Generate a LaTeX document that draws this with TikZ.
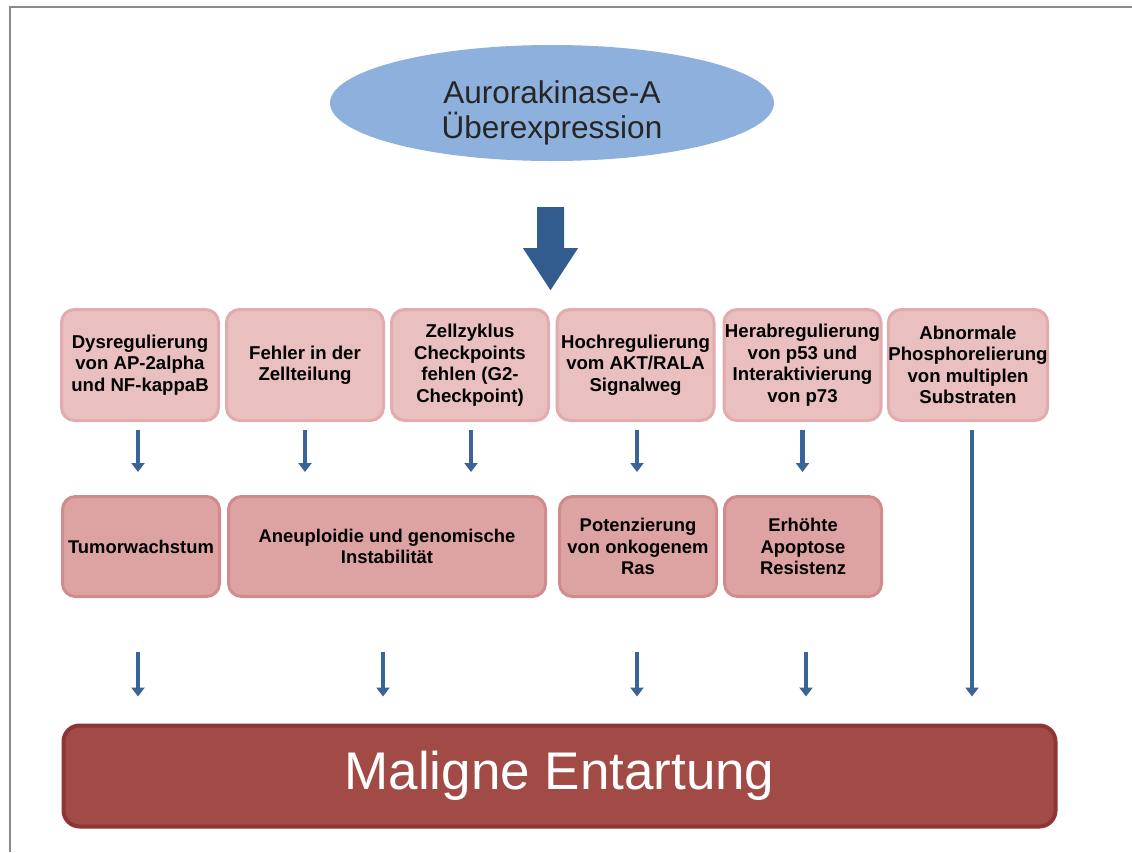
\documentclass[tikz,border=0pt]{standalone}
\usepackage{fontspec}
\setmainfont{Liberation Sans}
\usetikzlibrary{arrows.meta,calc,shapes.geometric}
\definecolor{ellfill}{HTML}{8DB0DC}
\definecolor{arrblue}{HTML}{3A6397}
\definecolor{bigblue}{HTML}{335C8E}
\definecolor{rowafill}{HTML}{E9BFC0}
\definecolor{rowadraw}{HTML}{E2ABAD}
\definecolor{rowbfill}{HTML}{DCA3A2}
\definecolor{rowbdraw}{HTML}{D18B8C}
\definecolor{botfill}{HTML}{A14A46}
\definecolor{botdraw}{HTML}{8E3636}
\definecolor{framegray}{HTML}{8A8A8A}
\tikzset{
  rowa/.style={draw=rowadraw, fill=rowafill, line width=3pt, rounded corners=13pt,
    minimum width=157pt, minimum height=111pt, align=center, inner sep=0pt,
    font=\fontsize{18.6}{21.5}\selectfont\bfseries},
  rowb/.style={draw=rowbdraw, fill=rowbfill, line width=3pt, rounded corners=13pt,
    minimum width=157pt, minimum height=100pt, align=center, inner sep=0pt,
    font=\fontsize{18.4}{21.5}\selectfont\bfseries},
  smallarr/.style={draw=arrblue, line width=4.5pt, -{Triangle[width=13pt,length=9pt]}},
}
\begin{document}
\begin{tikzpicture}[x=1pt,y=-1pt]
\useasboundingbox (0,0) rectangle (1132,852);
\fill[white] (0,0) rectangle (1132,852);
% frame
\draw[framegray, line width=2pt] (1132,7) -- (10,7) -- (10,852);

% top ellipse
\node[ellipse, fill=ellfill, minimum width=444pt, minimum height=116pt] (ell) at (552,103) {};
\node[align=center, font=\fontsize{31.5}{35}\selectfont, text=black!85] (elltext)
  at ([yshift=-10pt]ell.center) {Aurorakinase-A\\Überexpression};

% big arrow
\fill[bigblue] ($(ell.south)+(-15,46)$) -- ($(ell.south)+(12,46)$) -- ($(ell.south)+(12,87)$)
  -- ($(ell.south)+(26,87)$) -- ($(ell.south)+(-1.5,129)$) -- ($(ell.south)+(-29,87)$)
  -- ($(ell.south)+(-15,87)$) -- cycle;

% row 1
\node[rowa] (a1) at (140,365) {Dysregulierung\\von AP-2alpha\\und NF-kappaB};
\node[rowa] (a2) at (305,365) {Fehler in der\\Zellteilung};
\node[rowa] (a3) at (470,365) {Zellzyklus\\Checkpoints\\fehlen (G2-\\Checkpoint)};
\node[rowa] (a4) at (635.5,365) {Hochregulierung\\vom AKT/RALA\\Signalweg};
\node[rowa] (a5) at (802.5,365) {Herabregulierung\\von p53 und\\Interaktivierung\\von p73};
\node[rowa] (a6) at (968,365) {Abnormale\\Phosphorelierung\\von multiplen\\Substraten};

% row 2
\node[rowb] (b1) at (141,546.5) {Tumorwachstum};
\node[rowb, minimum width=317pt] (b2) at (387,546.5) {Aneuploidie und genomische\\Instabilität};
\node[rowb] (b3) at (638,546.5) {Potenzierung\\von onkogenem\\Ras};
\node[rowb] (b4) at (803,546.5) {Erhöhte\\Apoptose\\Resistenz};

% bottom
\node[draw=botdraw, fill=botfill, line width=4pt, rounded corners=16pt,
  minimum width=992pt, minimum height=101pt, text=white,
  font=\fontsize{53}{60}\selectfont] (bot) at (559.5,776) {Maligne Entartung};

% arrows row1 -> row2
\draw[smallarr, shorten <=8pt, shorten >=23pt] ([xshift=-2pt]a1.south) -- ([xshift=-2pt]a1.south |- b1.north);
\draw[smallarr, shorten <=8pt, shorten >=23pt] (a2.south) -- (a2.south |- b2.north);
\draw[smallarr, shorten <=8pt, shorten >=23pt] ([xshift=1pt]a3.south) -- ([xshift=1pt]a3.south |- b2.north);
\draw[smallarr, shorten <=8pt, shorten >=23pt] ([xshift=1.5pt]a4.south) -- ([xshift=1.5pt]a4.south |- b3.north);
\draw[smallarr, shorten <=8pt, shorten >=23pt] (a5.south) -- (a5.south |- b4.north);
% long arrow
\draw[smallarr, shorten <=8pt, shorten >=27pt] ([xshift=4pt]a6.south) -- ([xshift=4pt]a6.south |- bot.north);

% arrows row2 -> bottom
\draw[smallarr, shorten <=54pt, shorten >=27pt] ([xshift=-3pt]b1.south) -- ([xshift=-3pt]b1.south |- bot.north);
\draw[smallarr, shorten <=54pt, shorten >=27pt] ([xshift=-4pt]b2.south) -- ([xshift=-4pt]b2.south |- bot.north);
\draw[smallarr, shorten <=54pt, shorten >=27pt] ([xshift=-1pt]b3.south) -- ([xshift=-1pt]b3.south |- bot.north);
\draw[smallarr, shorten <=54pt, shorten >=27pt] ([xshift=3pt]b4.south) -- ([xshift=3pt]b4.south |- bot.north);
\end{tikzpicture}
\end{document}
